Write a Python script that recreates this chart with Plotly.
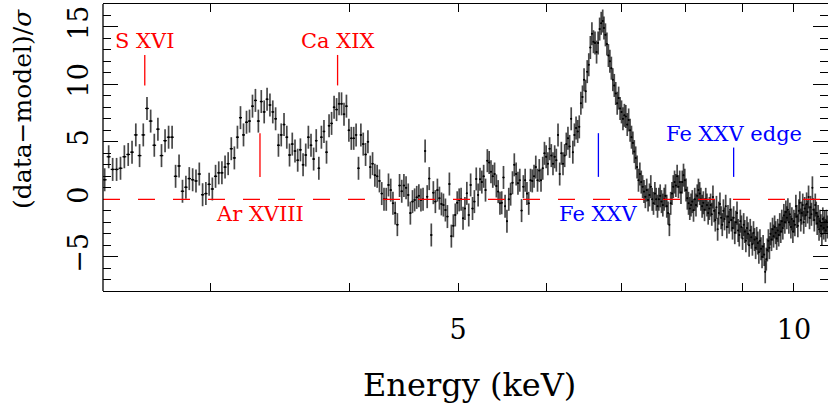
import math
import plotly.graph_objects as go

# ---------------- data ----------------
# residual spectrum, (data-model)/sigma, on four uniform energy grids (keV)
seg1_start, seg1_step = 2.412, 0.0200
seg1_vals = [
    1.7, 3.7, 2.6, 2.6, 2.7, 3.7, 3.9, 4.1, 5.6, 3.8,
    5.6, 7.9, 6.8, 4.7, 6.1, 3.8, 5.1, 5.4, 5.4, 2.0,
    2.9, 0.7, 1.05, 1.8, 1.7, 1.6, 2.2, 0.4, 0.5, 1.3,
    0.9, 2.0, 2.3, 2.3, 2.8, 3.1, 4.4, 3.6, 5.4, 7.1,
    5.6, 6.7, 6.8, 8.1, 8.6, 6.8, 8.5, 7.6, 8.7, 8.2,
    7.6, 7.0, 4.7, 5.6, 6.5, 5.4, 3.85, 4.8, 4.2, 3.4,
    4.3, 3.0, 3.85, 5.4, 4.7, 3.5, 5.1, 2.7, 5.4, 5.9,
    4.1, 6.4, 6.6, 8.0, 7.8, 8.3, 8.3, 7.4, 8.1, 6.0,
    5.3, 5.3, 5.6, 2.7, 5.6, 4.8, 3.9, 5.0, 2.8, 3.1,
    2.1, 2.0, 1.6, 0.5, 0.0, 0.0, 1.25, 0.8, -0.35, -1.2,
    -2.2, 1.2, 0.7, 1.2, 1.0, 0.38, -1.2, -0.2, -0.05, 0.17,
    0.3, -0.05, 0.0, 4.2, 0.23, 1.8, -3.1, 0.58, -0.2, 0.8,
    0.1, -0.4, -0.5, -0.93, -1.5, 1.33, -3.2, -2.3, -1.36, -0.3,
    -0.05, 0.0, -1.65, -0.8, 0.52, -1.36, 1.25, -0.8, -0.2, 1.77,
    0.38, 1.74, 1.5, 2.0, 0.8, 3.36, 3.2, 2.4, 2.0, 2.2,
    1.16, 0.67, -0.35, -0.3, 1.9,
]
seg2_start, seg2_step = 5.510, 0.0212
seg2_vals = [
    -0.6, -1.9, 0.0, 0.45, 1.44, 3.0, 2.2, 1.4, 1.66, -0.98,
    1.1, 1.66, 0.5, -0.35, 1.66, 1.6, 2.0, 2.8, 1.66, 2.5,
    1.66, 2.7, 4.0, 3.7, 3.1, 4.4, 3.8, 3.1, 3.7, 3.4,
    5.6, 2.2, 4.0, 3.1, 3.8, 4.8, 5.3, 4.6, 7.0, 4.1,
    5.6, 6.2, 5.9, 6.3, 8.35, 8.9, 10.4, 9.4, 11.1, 11.7,
    13.2, 14.4, 13.7, 13.6, 12.8, 13.6, 14.8, 15.3, 15.5,
]
seg3_start, seg3_step = 6.757, 0.02078
seg3_vals = [
    14.9, 14.3, 13.5, 12.5, 12.0, 11.4, 10.4, 9.9, 9.2, 8.35,
    8.8, 7.9, 7.6, 7.0, 7.3, 7.2, 6.5, 6.9, 6.0, 5.4,
    4.9, 4.15, 3.6, 2.8, 1.66, 2.2, 1.5, 1.1, 0.67, 0.23,
    0.8, -0.06, 0.38, 1.1, 0.0, -0.35, 0.5, 0.0, -0.6, 0.0,
    0.3, -0.2, -0.5, 0.0, 0.3, -0.6, -1.2, -2.2, -0.35, 0.5,
    1.1, 1.5, 1.2, 2.0, 1.1, 1.5, 0.6, 1.5, 2.1, 1.66,
    0.8, 0.1, -0.35, -0.8, -0.5, -0.2, -0.95, 0.0, -0.5, 0.3,
    0.8, 0.5, 0.0, -0.6, -0.3, -0.9, 0.0, -0.5, -1.2, -0.8,
]
seg4_start, seg4_step = 8.420, 0.0205
seg4_vals = [
    -0.5, -1.3, 0.2, -1.0, -1.8, -0.7, -2.6, -1.2, -0.4, -1.6,
    -2.2, -1.0, -1.7, -0.6, -2.4, -1.5, -2.0, -0.9, -1.8, -2.5,
    -1.6, -2.9, -2.0, -1.2, -2.7, -3.1, -1.9, -2.4, -3.4, -2.2,
    -2.8, -3.6, -2.5, -3.0, -4.0, -2.7, -3.3, -3.9, -2.9, -3.5,
    -4.2, -3.4, -3.8, -4.6, -3.6, -4.3, -5.0, -4.1, -4.8, -6.3,
    -5.2, -4.4, -3.6, -4.2, -3.0, -3.5, -2.6, -3.2, -2.4, -2.9,
    -3.4, -2.7, -3.1, -2.2, -2.8, -1.9, -2.5, -1.4, -2.0, -1.1,
    -1.6, -0.9, -2.0, -1.3, -2.4, -1.7, -2.8, -1.9, -2.2, -0.6,
    -1.5, -2.3, -1.0, -0.3, -1.8, -1.2, -0.5, -2.0, -0.8, -1.4,
    -0.4, -1.1, 0.2, -1.6, -0.7, -1.3, 1.0, -0.9, -1.8, -0.5,
    -1.2, -2.1, -1.5, -2.6, -1.9, -2.3, -3.0, -1.7, -2.5, -2.0,
    -2.7, -1.9, -2.4,
]
sigma_err = 1.0  # residuals are in units of sigma

# line identifications
red_lines = ["S XVI", "Ar XVIII", "Ca XIX"]
red_energy = [2.62, 3.323, 3.90]
blue_lines = ["Fe XXV", "Fe XXV edge"]
blue_energy = [6.68, 8.83]

x_tick_vals = [3, 4, 5, 6, 7, 8, 9, 10]
x_tick_text = ["", "", "5", "", "", "", "", "10"]
y_tick_vals = [-5, 0, 5, 10, 15]
y_tick_text = ["\u22125", "0", "5", "10", "15"]

AXFONT = "DejaVu Serif"

# ---------------- build traces ----------------
energy, resid, half_w = [], [], []
for start, step, vals in [(seg1_start, seg1_step, seg1_vals),
                          (seg2_start, seg2_step, seg2_vals),
                          (seg3_start, seg3_step, seg3_vals),
                          (seg4_start, seg4_step, seg4_vals)]:
    for i, v in enumerate(vals):
        energy.append(start + i * step)
        resid.append(v)
        half_w.append(step / 2)

fig = go.Figure()
fig.add_trace(go.Scatter(
    x=energy, y=resid, mode="markers",
    marker=dict(size=2, color="black"),
    error_y=dict(type="constant", value=sigma_err, color="rgba(0,0,0,0.72)",
                 thickness=1.7, width=0),
    error_x=dict(type="data", array=half_w, color="black", thickness=1.2, width=0),
    showlegend=False, hoverinfo="skip",
))

RED = "rgb(255,0,0)"
BLUE = "rgb(0,0,255)"
shapes = [
    dict(type="line", xref="paper", x0=0, x1=1, yref="y", y0=0, y1=0,
         line=dict(color=RED, width=1.3, dash="17px,18px"), layer="above"),
    dict(type="line", xref="paper", x0=0, x1=0, yref="paper", y0=0, y1=1,
         line=dict(color="black", width=1.3)),
]
mark_ranges = {"S XVI": (9.9, 12.55), "Ca XIX": (9.9, 12.55),
               "Ar XVIII": (1.95, 5.75), "Fe XXV": (1.95, 5.75),
               "Fe XXV edge": (1.95, 4.5)}
label_y = {"S XVI": 13.75, "Ca XIX": 13.75, "Ar XVIII": -1.25,
           "Fe XXV": -1.25, "Fe XXV edge": 5.7}
annotations = []
for names, ens, col in [(red_lines, red_energy, RED), (blue_lines, blue_energy, BLUE)]:
    for nm, e in zip(names, ens):
        y0, y1 = mark_ranges[nm]
        shapes.append(dict(type="line", xref="x", x0=e, x1=e, yref="y", y0=y0, y1=y1,
                           line=dict(color=col, width=1.3)))
        annotations.append(dict(x=math.log10(e), xref="x", y=label_y[nm], yref="y",
                                text=nm, showarrow=False, xanchor="center", yanchor="middle",
                                font=dict(family="DejaVu Serif", size=21, color=col)))

annotations.append(dict(text="(data\u2212model)/<i>\u03c3</i>", xref="paper", yref="paper",
                        x=-0.11, y=0.635, xanchor="center", yanchor="middle",
                        textangle=-90, showarrow=False,
                        font=dict(family=AXFONT, size=25, color="black")))
annotations.append(dict(text="Energy (keV)", xref="paper", yref="paper",
                        x=0.505, y=-0.3275, xanchor="center", yanchor="middle",
                        showarrow=False,
                        font=dict(family=AXFONT, size=32, color="black")))

fig.update_layout(
    width=828, height=412,
    margin=dict(l=103, r=0, t=4, b=121),
    paper_bgcolor="white", plot_bgcolor="white",
    shapes=shapes, annotations=annotations,
    xaxis=dict(type="log", range=[0.38087, 1.03051],
               tickmode="array", tickvals=x_tick_vals, ticktext=x_tick_text,
               ticks="inside", ticklen=8, tickwidth=1, tickcolor="black",
               showline=True, linecolor="black", linewidth=1.3, mirror="ticks",
               showgrid=False, zeroline=False, ticklabelstandoff=14,
               tickfont=dict(family=AXFONT, size=27, color="black")),
    yaxis=dict(range=[-7.97, 16.98],
               tickmode="array", tickvals=y_tick_vals, ticktext=y_tick_text,
               ticks="inside", ticklen=15, tickwidth=1, tickcolor="black",
               minor=dict(tickvals=list(range(-7, 17)), ticks="inside", ticklen=8,
                          tickwidth=1, tickcolor="black"),
               showline=False, mirror="ticks", tickangle=-90,
               showgrid=False, zeroline=False, ticklabelstandoff=9,
               tickfont=dict(family=AXFONT, size=27, color="black")),
)

fig.write_html("out.html")
